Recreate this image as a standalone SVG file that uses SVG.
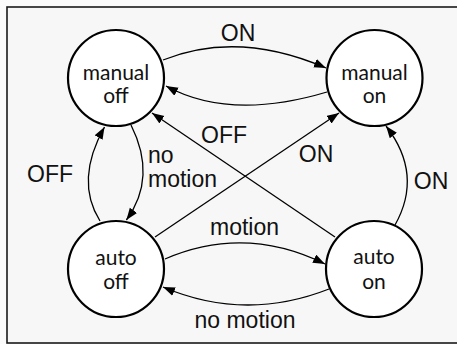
<svg xmlns="http://www.w3.org/2000/svg" width="457" height="344" viewBox="0 0 457 344">
<style>
.node circle{fill:#ffffff;stroke:#000;stroke-width:2.2}
.node text{font-family:Lato,"Open Sans",sans-serif;font-size:21px;text-anchor:middle;fill:#111}
.edge path{fill:none;stroke:#000;stroke-width:1.3;marker-end:url(#arr)}
.lbl{font-family:"Liberation Sans",Arial,sans-serif;font-size:23px;fill:#111}
</style>
<defs>
<marker id="arr" markerUnits="userSpaceOnUse" markerWidth="13" markerHeight="10" refX="12" refY="4.5" orient="auto" viewBox="0 0 13 10">
<path d="M0,0 L12,4.5 L0,9 z" fill="#000"/>
</marker>
</defs>
<rect x="0" y="0" width="457" height="344" fill="#fbfbfb"/>
<rect x="7" y="7" width="460" height="336" fill="#f7f7f7" stroke="#1a1a1a" stroke-width="1.6"/>
<g id="connectors" class="edge">
<path d="M163,60 Q238,30 326,68"/>
<path d="M327,92 Q230,121 166,86"/>
<path d="M335,237 L152,113"/>
<path d="M155,237 L339,113"/>
<path d="M131,125 Q157.3,177.5 126.4,220"/>
<path d="M100,221 Q74.5,180.5 104.5,127"/>
<path d="M165,259 Q245,224.5 325,264"/>
<path d="M329,289 Q245,322 163,287"/>
<path d="M395,225 Q423.5,174.5 386,126"/>
</g>
<g id="labels">
<text class="lbl" x="238" y="41" text-anchor="middle">ON</text>
<text class="lbl" x="224" y="143" text-anchor="middle">OFF</text>
<text class="lbl" x="316" y="162" text-anchor="middle">ON</text>
<text class="lbl" x="50" y="182" text-anchor="middle">OFF</text>
<text class="lbl" x="148" y="163">no</text>
<text class="lbl" x="148" y="187">motion</text>
<text class="lbl" x="431" y="189" text-anchor="middle">ON</text>
<text class="lbl" x="244.5" y="235" text-anchor="middle">motion</text>
<text class="lbl" x="245" y="328" text-anchor="middle">no motion</text>
</g>
<g id="manual-off" class="node">
<circle cx="116" cy="78" r="48"/>
<text x="116" y="80">manual</text>
<text x="116" y="103">off</text>
</g>
<g id="manual-on" class="node">
<circle cx="374.5" cy="78" r="48"/>
<text x="374.5" y="80">manual</text>
<text x="374.5" y="103">on</text>
</g>
<g id="auto-off" class="node">
<circle cx="116" cy="269" r="48"/>
<text x="116" y="265">auto</text>
<text x="116" y="289">off</text>
</g>
<g id="auto-on" class="node">
<circle cx="374" cy="269" r="48"/>
<text x="374" y="264">auto</text>
<text x="374" y="289">on</text>
</g>
</svg>
